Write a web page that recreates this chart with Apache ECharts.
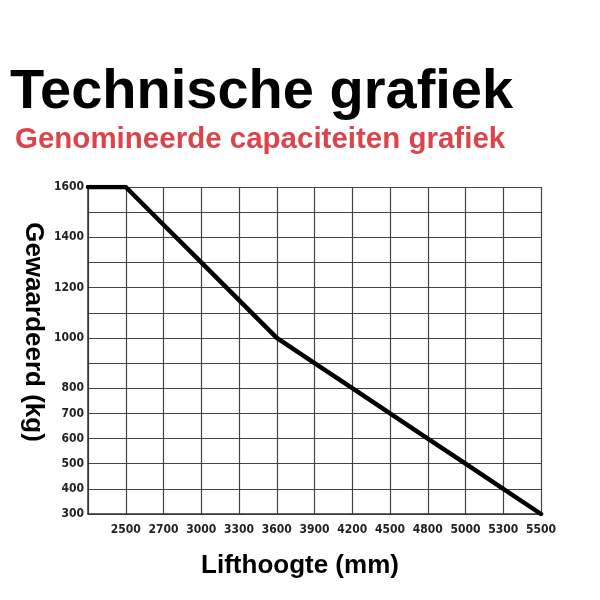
<!DOCTYPE html>
<html>
<head>
<meta charset="utf-8">
<script src="https://cdn.jsdelivr.net/npm/echarts@6/dist/echarts.min.js"></script>
<style>
  html, body { margin: 0; padding: 0; background: #fff; }
  #chart { width: 600px; height: 600px; }
</style>
</head>
<body>
<div id="chart"></div>
<script>
// liftheights (mm); first slot is the blank start of the axis
const liftHeights = ['', '2500', '2700', '3000', '3300', '3600', '3900', '4200', '4500', '4800', '5000', '5300', '5500']
// rated capacity (kg)
const capacity = [1600, 1600, 1450, 1300, 1150, 1000, 900, 800, 700, 600, 500, 400, 300]
// y labels that are printed
const yLabels = [300, 400, 500, 600, 700, 800, 1000, 1200, 1400, 1600]

const chart = echarts.init(document.getElementById('chart'))

const labelFont = {
  fontFamily: 'Liberation Sans Narrow, DejaVu Sans Condensed, sans-serif',
  fontWeight: 'bold',
  fontSize: 12,
  color: '#222'
}

const nameStyle = {
  fontFamily: 'Liberation Sans, Arial, sans-serif',
  fontSize: 26,
  fontWeight: 'bold',
  fill: '#000',
  align: 'center',
  verticalAlign: 'middle'
}

const option = {
  animation: false,
  backgroundColor: '#fff',
  title: [
    {
      text: 'Technische grafiek',
      left: 5,
      top: 60,
      textStyle: {
        fontFamily: 'Liberation Sans, Arial, sans-serif',
        fontSize: 56,
        fontWeight: 'bold',
        color: '#000'
      }
    },
    {
      text: 'Genomineerde capaciteiten grafiek',
      left: 10,
      top: 120,
      textStyle: {
        fontFamily: 'Liberation Sans, Arial, sans-serif',
        fontSize: 29.5,
        fontWeight: 'bold',
        color: '#dc434b'
      }
    }
  ],
  // axis names are not centred on the plot in the original, so placed by hand
  graphic: [
    {
      type: 'text',
      x: 33,
      y: 332,
      rotation: -Math.PI / 2,
      style: { ...nameStyle, text: 'Gewaardeerd (kg)' }
    },
    {
      type: 'text',
      x: 300,
      y: 566,
      style: { ...nameStyle, text: 'Lifthoogte (mm)' }
    }
  ],
  grid: {
    left: 88,
    right: 59,
    top: 187,
    bottom: 86
  },
  xAxis: {
    type: 'category',
    data: liftHeights,
    boundaryGap: false,
    axisLine: { lineStyle: { color: '#333', width: 1.5 } },
    axisTick: { show: false },
    axisLabel: { ...labelFont, margin: 10, interval: 0 },
    splitLine: { show: true, lineStyle: { color: '#444', width: 1.2 } }
  },
  yAxis: {
    type: 'value',
    min: 300,
    max: 1600,
    interval: 100,
    axisLine: { show: true, lineStyle: { color: '#333', width: 1.5 } },
    axisTick: { show: false },
    axisLabel: {
      ...labelFont,
      margin: 4,
      formatter: v => (yLabels.includes(v) ? String(v) : '')
    },
    splitLine: { show: true, lineStyle: { color: '#444', width: 1.2 } }
  },
  series: [
    {
      type: 'line',
      data: capacity,
      symbol: 'none',
      lineStyle: { color: '#000', width: 4.5, cap: 'round', join: 'round' }
    }
  ]
}

chart.setOption(option)
</script>
</body>
</html>
